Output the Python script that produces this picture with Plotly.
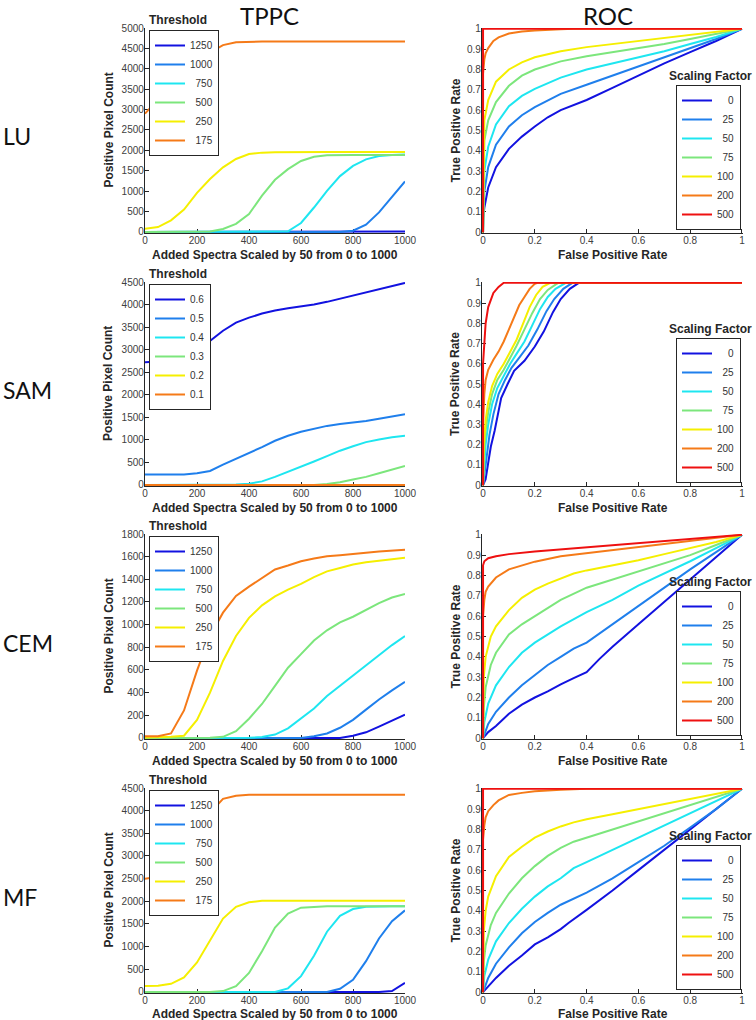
import plotly.graph_objects as go

W, H = 756, 1020
FONT = "Liberation Sans, Arial, sans-serif"
TITLE_FONT = "Lato, Open Sans, sans-serif"

# ---------------- data ----------------
ADDED_SPECTRA = [0, 50, 100, 150, 200, 250, 300, 350, 400, 450, 500,
                 550, 600, 650, 700, 750, 800, 850, 900, 950, 1000]

THRESH_LABELS = ["1250", "1000", "\u2007750", "\u2007500", "\u2007250", "\u2007175"]
SAM_THRESH_LABELS = ["0.6", "0.5", "0.4", "0.3", "0.2", "0.1"]
SCALING_LABELS = ["\u2007\u20070", "\u200725", "\u200750", "\u200775", "100", "200", "500"]
ROW_LABELS = ["LU", "SAM", "CEM", "MF"]

TPPC_COLORS = ["#1212e0", "#1f7fec", "#1ee6f0", "#7ce67c", "#f5ef00", "#f57a18"]
ROC_COLORS = ["#1212e0", "#1f7fec", "#1ee6f0", "#7ce67c", "#f5ef00", "#f57a18", "#ee1010"]

# TPPC: positive pixel counts, one list per threshold (order as THRESH_LABELS)
LU_TPPC = [
    [0, 0, 0, 0, 0, 0, 0, 0, 0, 0, 0, 0, 0, 0, 0, 0, 0, 0, 0, 5, 10],
    [0, 0, 0, 0, 0, 0, 0, 0, 0, 0, 0, 0, 0, 0, 0, 0, 30, 180, 480, 850, 1240],
    [0, 0, 0, 0, 0, 0, 0, 0, 0, 0, 0, 15, 220, 600, 1010, 1370, 1620, 1780, 1860, 1890, 1900],
    [0, 0, 0, 0, 0, 10, 75, 200, 440, 890, 1280, 1540, 1740, 1845, 1880, 1890, 1890, 1890, 1890, 1890, 1890],
    [80, 120, 285, 550, 960, 1300, 1585, 1790, 1910, 1945, 1955, 1960, 1960, 1960, 1960, 1960, 1960, 1960, 1960, 1960, 1960],
    [2900, 3250, 3650, 3980, 4220, 4400, 4580, 4650, 4668, 4670, 4670, 4670, 4670, 4670, 4670, 4670, 4670, 4670, 4670, 4670, 4670],
]
SAM_TPPC = [
    [2720, 2740, 2790, 2870, 2970, 3200, 3420, 3600, 3710, 3800, 3870, 3920, 3960, 4000, 4060, 4130, 4200, 4270, 4350, 4420, 4480],
    [230, 230, 230, 230, 260, 310, 450, 580, 700, 840, 980, 1090, 1180, 1250, 1310, 1350, 1380, 1420, 1470, 1520, 1570],
    [0, 0, 0, 0, 0, 2, 5, 10, 30, 80, 180, 290, 400, 520, 640, 760, 860, 950, 1010, 1060, 1090],
    [0, 0, 0, 0, 0, 0, 0, 0, 0, 0, 0, 0, 0, 0, 20, 60, 120, 180, 260, 340, 420],
    [0, 0, 0, 0, 0, 0, 0, 0, 0, 0, 0, 0, 0, 0, 0, 0, 0, 0, 0, 0, 0],
    [0, 0, 0, 0, 0, 0, 0, 0, 0, 0, 0, 0, 0, 0, 0, 0, 0, 0, 0, 0, 0],
]
CEM_TPPC = [
    [0, 0, 0, 0, 0, 0, 0, 0, 0, 0, 0, 0, 0, 0, 0, 0, 20, 50, 100, 150, 205],
    [0, 0, 0, 0, 0, 0, 0, 0, 0, 0, 0, 0, 0, 15, 40, 90, 160, 250, 340, 420, 495],
    [0, 0, 0, 0, 0, 0, 0, 0, 2, 8, 30, 85, 170, 260, 370, 460, 550, 640, 730, 820, 900],
    [0, 0, 0, 0, 2, 3, 10, 60, 170, 300, 460, 620, 740, 860, 950, 1020, 1070, 1130, 1190, 1240, 1270],
    [5, 5, 10, 20, 160, 400, 680, 900, 1060, 1170, 1250, 1310, 1360, 1420, 1470, 1500, 1530, 1550, 1565, 1578, 1590],
    [15, 15, 40, 243, 594, 900, 1106, 1253, 1335, 1414, 1487, 1522, 1560, 1583, 1604, 1613, 1627, 1635, 1645, 1652, 1660],
]
MF_TPPC = [
    [0, 0, 0, 0, 0, 0, 0, 0, 0, 0, 0, 0, 0, 0, 0, 0, 0, 0, 0, 20, 200],
    [0, 0, 0, 0, 0, 0, 0, 0, 0, 0, 0, 0, 0, 0, 0, 70, 270, 680, 1180, 1560, 1800],
    [0, 0, 0, 0, 0, 0, 0, 0, 0, 0, 0, 80, 350, 800, 1330, 1680, 1830, 1880, 1890, 1890, 1890],
    [0, 0, 0, 0, 0, 0, 20, 130, 420, 900, 1420, 1730, 1860, 1880, 1890, 1890, 1890, 1890, 1890, 1890, 1890],
    [130, 140, 180, 320, 650, 1150, 1620, 1880, 1980, 2010, 2010, 2010, 2010, 2010, 2010, 2010, 2010, 2010, 2010, 2010, 2010],
    [2500, 2540, 2700, 3100, 3550, 3950, 4260, 4330, 4350, 4350, 4350, 4350, 4350, 4350, 4350, 4350, 4350, 4350, 4350, 4350, 4350],
]
TPPC_YMAX = [5000, 4500, 1800, 4500]
TPPC_YDTICK = [500, 500, 200, 500]

# ROC: (false positive rate list, true positive rate list) per scaling factor
LU_ROC = [
    ([0, 0.005, 0.02, 0.05, 0.1, 0.15, 0.2, 0.25, 0.3, 0.4, 0.5, 0.6, 0.7, 0.8, 0.9, 1],
     [0.07, 0.12, 0.22, 0.32, 0.41, 0.47, 0.52, 0.565, 0.6, 0.65, 0.71, 0.77, 0.83, 0.885, 0.94, 1]),
    ([0, 0.005, 0.02, 0.05, 0.1, 0.15, 0.2, 0.3, 0.4, 0.5, 0.6, 0.7, 0.8, 0.9, 1],
     [0, 0.2, 0.32, 0.43, 0.52, 0.575, 0.615, 0.68, 0.725, 0.77, 0.815, 0.86, 0.905, 0.95, 1]),
    ([0, 0.005, 0.02, 0.05, 0.1, 0.15, 0.2, 0.3, 0.4, 0.5, 0.6, 0.7, 0.8, 0.9, 1],
     [0, 0.3, 0.42, 0.53, 0.62, 0.67, 0.705, 0.76, 0.8, 0.83, 0.86, 0.89, 0.925, 0.96, 1]),
    ([0, 0.005, 0.02, 0.05, 0.1, 0.15, 0.2, 0.3, 0.4, 0.5, 0.6, 0.7, 0.8, 0.9, 1],
     [0, 0.45, 0.55, 0.64, 0.72, 0.77, 0.80, 0.84, 0.865, 0.885, 0.905, 0.925, 0.95, 0.975, 1]),
    ([0, 0.005, 0.02, 0.05, 0.1, 0.15, 0.2, 0.3, 0.4, 0.5, 0.6, 0.7, 0.8, 0.9, 1],
     [0, 0.55, 0.65, 0.74, 0.80, 0.835, 0.86, 0.89, 0.91, 0.925, 0.94, 0.955, 0.97, 0.985, 1]),
    ([0, 0, 0.005, 0.01, 0.02, 0.04, 0.06, 0.1, 0.15, 0.2, 0.3, 0.35, 1],
     [0, 0.78, 0.85, 0.88, 0.905, 0.94, 0.958, 0.977, 0.987, 0.992, 0.998, 1, 1]),
    ([0, 0, 1], [0, 1, 1]),
]
SAM_ROC = [
    ([0, 0.01, 0.02, 0.03, 0.045, 0.07, 0.095, 0.12, 0.16, 0.2, 0.235, 0.27, 0.3, 0.335, 0.37, 1],
     [0, 0.03, 0.11, 0.19, 0.27, 0.43, 0.5, 0.565, 0.615, 0.685, 0.76, 0.855, 0.92, 0.97, 1, 1]),
    ([0, 0.005, 0.015, 0.025, 0.04, 0.06, 0.085, 0.11, 0.14, 0.175, 0.21, 0.245, 0.275, 0.31, 0.345, 1],
     [0, 0.05, 0.15, 0.25, 0.35, 0.45, 0.52, 0.58, 0.63, 0.69, 0.77, 0.86, 0.92, 0.97, 1, 1]),
    ([0, 0.005, 0.01, 0.02, 0.035, 0.055, 0.08, 0.105, 0.13, 0.16, 0.19, 0.22, 0.25, 0.28, 0.32, 1],
     [0, 0.1, 0.2, 0.3, 0.4, 0.48, 0.54, 0.6, 0.65, 0.71, 0.79, 0.87, 0.93, 0.97, 1, 1]),
    ([0, 0.003, 0.01, 0.02, 0.035, 0.055, 0.08, 0.105, 0.13, 0.16, 0.19, 0.22, 0.25, 0.29, 1],
     [0, 0.15, 0.27, 0.36, 0.45, 0.52, 0.57, 0.63, 0.69, 0.77, 0.85, 0.92, 0.965, 1, 1]),
    ([0, 0.003, 0.01, 0.02, 0.035, 0.055, 0.08, 0.105, 0.13, 0.155, 0.18, 0.205, 0.23, 0.26, 1],
     [0, 0.2, 0.32, 0.41, 0.49, 0.55, 0.6, 0.66, 0.72, 0.8, 0.88, 0.94, 0.98, 1, 1]),
    ([0, 0, 0.005, 0.01, 0.02, 0.04, 0.06, 0.08, 0.1, 0.12, 0.14, 0.16, 0.18, 0.2, 0.21, 1],
     [0, 0.3, 0.45, 0.52, 0.57, 0.62, 0.66, 0.71, 0.77, 0.83, 0.89, 0.93, 0.97, 0.995, 1, 1]),
    ([0, 0, 0.005, 0.01, 0.02, 0.03, 0.04, 0.06, 0.08, 1],
     [0, 0.6, 0.7, 0.8, 0.88, 0.92, 0.95, 0.98, 1, 1]),
]
CEM_ROC = [
    ([0, 0.02, 0.05, 0.1, 0.15, 0.2, 0.25, 0.3, 0.35, 0.4, 0.45, 0.5, 0.6, 0.7, 0.8, 0.9, 1],
     [0, 0.03, 0.06, 0.12, 0.165, 0.2, 0.23, 0.265, 0.295, 0.325, 0.39, 0.45, 0.56, 0.67, 0.78, 0.89, 1]),
    ([0, 0.02, 0.05, 0.1, 0.15, 0.2, 0.25, 0.3, 0.35, 0.4, 0.5, 0.6, 0.7, 0.8, 0.9, 1],
     [0, 0.07, 0.13, 0.2, 0.26, 0.31, 0.36, 0.4, 0.44, 0.47, 0.56, 0.65, 0.74, 0.83, 0.915, 1]),
    ([0, 0.005, 0.02, 0.05, 0.1, 0.15, 0.2, 0.3, 0.4, 0.5, 0.6, 0.7, 0.8, 0.9, 1],
     [0, 0.08, 0.17, 0.26, 0.35, 0.42, 0.47, 0.55, 0.62, 0.68, 0.75, 0.81, 0.87, 0.935, 1]),
    ([0, 0.003, 0.01, 0.03, 0.05, 0.1, 0.15, 0.2, 0.25, 0.3, 0.4, 0.5, 0.6, 0.7, 0.8, 0.9, 1],
     [0, 0.15, 0.25, 0.36, 0.42, 0.51, 0.56, 0.6, 0.64, 0.68, 0.74, 0.78, 0.82, 0.86, 0.9, 0.95, 1]),
    ([0, 0.003, 0.01, 0.03, 0.05, 0.1, 0.15, 0.2, 0.25, 0.3, 0.35, 0.4, 0.5, 0.6, 0.7, 0.8, 0.9, 1],
     [0, 0.3, 0.4, 0.5, 0.55, 0.63, 0.69, 0.73, 0.76, 0.785, 0.81, 0.825, 0.85, 0.875, 0.905, 0.935, 0.965, 1]),
    ([0, 0, 0.005, 0.01, 0.02, 0.05, 0.1, 0.15, 0.2, 0.3, 0.4, 0.5, 0.6, 0.7, 0.8, 0.9, 1],
     [0, 0.6, 0.68, 0.72, 0.745, 0.79, 0.83, 0.85, 0.868, 0.895, 0.91, 0.925, 0.94, 0.955, 0.97, 0.985, 1]),
    ([0, 0, 0.005, 0.02, 0.05, 0.1, 0.2, 0.3, 0.4, 0.5, 0.6, 0.7, 0.8, 0.9, 1],
     [0, 0.85, 0.87, 0.885, 0.895, 0.905, 0.918, 0.928, 0.938, 0.948, 0.958, 0.967, 0.977, 0.988, 1]),
]
MF_ROC = [
    ([0, 0.02, 0.05, 0.1, 0.15, 0.2, 0.25, 0.3, 0.33, 0.4, 0.5, 0.6, 0.7, 0.8, 0.9, 1],
     [0, 0.03, 0.07, 0.13, 0.18, 0.235, 0.27, 0.31, 0.34, 0.405, 0.5, 0.6, 0.7, 0.8, 0.9, 1]),
    ([0, 0.02, 0.05, 0.1, 0.15, 0.2, 0.25, 0.3, 0.4, 0.5, 0.6, 0.7, 0.8, 0.9, 1],
     [0, 0.07, 0.14, 0.22, 0.29, 0.345, 0.39, 0.43, 0.49, 0.56, 0.64, 0.72, 0.81, 0.9, 1]),
    ([0, 0.005, 0.02, 0.05, 0.1, 0.15, 0.2, 0.25, 0.3, 0.35, 0.4, 0.5, 0.6, 0.7, 0.8, 0.9, 1],
     [0, 0.08, 0.16, 0.25, 0.34, 0.41, 0.47, 0.52, 0.56, 0.61, 0.64, 0.7, 0.76, 0.82, 0.88, 0.94, 1]),
    ([0, 0.003, 0.01, 0.03, 0.05, 0.1, 0.15, 0.2, 0.25, 0.3, 0.35, 0.4, 0.5, 0.6, 0.7, 0.8, 0.9, 1],
     [0, 0.15, 0.23, 0.33, 0.39, 0.485, 0.56, 0.62, 0.67, 0.71, 0.74, 0.76, 0.8, 0.84, 0.88, 0.92, 0.96, 1]),
    ([0, 0.003, 0.01, 0.02, 0.05, 0.1, 0.15, 0.2, 0.25, 0.3, 0.35, 0.4, 0.5, 0.6, 0.7, 0.8, 0.9, 1],
     [0, 0.3, 0.4, 0.47, 0.57, 0.665, 0.715, 0.76, 0.79, 0.815, 0.835, 0.85, 0.875, 0.9, 0.925, 0.95, 0.975, 1]),
    ([0, 0, 0.005, 0.01, 0.02, 0.04, 0.06, 0.1, 0.15, 0.2, 0.25, 0.3, 0.4, 1],
     [0, 0.75, 0.82, 0.86, 0.89, 0.92, 0.943, 0.97, 0.98, 0.988, 0.992, 0.996, 1, 1]),
    ([0, 0, 1], [0, 1, 1]),
]

TPPC_DATA = [LU_TPPC, SAM_TPPC, CEM_TPPC, MF_TPPC]
ROC_DATA = [LU_ROC, SAM_ROC, CEM_ROC, MF_ROC]
TPPC_LEGEND_LABELS = [THRESH_LABELS, SAM_THRESH_LABELS, THRESH_LABELS, THRESH_LABELS]

# ---------------- layout geometry (pixels) ----------------
ROW_PX = [(28, 233), (282, 486), (534, 739), (788, 993)]
TPPC_XPX = (145, 405)
ROC_XPX = (482, 743)
ROC_LEGEND_H = 144  # approx rendered height of a 7-entry legend
XTITLE_OFF = [22, 22, 22, 21]


def xdom(px):
    return [px[0] / W, px[1] / W]


def ydom(px):
    return [1 - px[1] / H, 1 - px[0] / H]


AX_COLOR = "#262626"
TICK_FONT = dict(family=FONT, size=10, color="#404040")


def base_axis():
    return dict(showline=True, linecolor=AX_COLOR, linewidth=1.3, ticks="inside",
                ticklen=4, tickcolor=AX_COLOR, tickwidth=1, tickfont=TICK_FONT,
                showgrid=False, zeroline=False, mirror=False, layer="below traces",
                fixedrange=True, automargin=False, ticklabelstandoff=-2)


fig = go.Figure()
layout = dict(width=W, height=H, margin=dict(l=0, r=0, t=0, b=0, pad=0, autoexpand=False),
              paper_bgcolor="white", plot_bgcolor="white", showlegend=True)
annotations = []

for r in range(4):
    for c in range(2):
        idx = 2 * r + c + 1
        sfx = "" if idx == 1 else str(idx)
        xa = base_axis()
        ya = base_axis()
        xa["domain"] = xdom(TPPC_XPX if c == 0 else ROC_XPX)
        ya["domain"] = ydom(ROW_PX[r])
        xa["anchor"] = "y" + sfx
        ya["anchor"] = "x" + sfx
        leg_name = "legend" + sfx
        if c == 0:
            ymax = TPPC_YMAX[r]
            xa.update(range=[0, 1000], tickmode="linear", tick0=0, dtick=200)
            ya.update(range=[-ymax * 0.005, ymax], tickmode="linear", tick0=0, dtick=TPPC_YDTICK[r])
            for k, vals in enumerate(TPPC_DATA[r]):
                fig.add_trace(go.Scatter(
                    x=ADDED_SPECTRA, y=vals, mode="lines",
                    line=dict(color=TPPC_COLORS[k], width=2),
                    name=TPPC_LEGEND_LABELS[r][k], legend=leg_name,
                    xaxis="x" + sfx, yaxis="y" + sfx))
            top_px = ROW_PX[r][0] + 2
            layout[leg_name] = dict(
                x=149 / W, y=1 - top_px / H, xanchor="left", yanchor="top",
                bgcolor="white", bordercolor=AX_COLOR, borderwidth=1,
                font=dict(family=FONT, size=10, color="#333333"),
                itemwidth=30, tracegroupgap=0)
            annotations.append(dict(
                text="<b>Threshold</b>", x=178 / W, y=1 - (ROW_PX[r][0] - 8) / H,
                xref="paper", yref="paper", showarrow=False, xanchor="center", yanchor="middle",
                font=dict(family=FONT, size=12, color="#262626")))
            annotations.append(dict(
                text="<b>Positive Pixel Count</b>", x=108 / W,
                y=1 - (ROW_PX[r][0] + ROW_PX[r][1]) / 2 / H, textangle=-90,
                xref="paper", yref="paper", showarrow=False, xanchor="center", yanchor="middle",
                font=dict(family=FONT, size=12, color="#262626")))
            annotations.append(dict(
                text="<b>Added Spectra Scaled by 50 from 0 to 1000</b>",
                x=(TPPC_XPX[0] + TPPC_XPX[1]) / 2 / W, y=1 - (ROW_PX[r][1] + XTITLE_OFF[r]) / H,
                xref="paper", yref="paper", showarrow=False, xanchor="center", yanchor="middle",
                font=dict(family=FONT, size=12, color="#262626")))
        else:
            xa.update(range=[-0.004, 1.004], tickmode="linear", tick0=0, dtick=0.2)
            ya.update(range=[-0.004, 1.004], tickmode="linear", tick0=0, dtick=0.1)
            for k, (fpr, tpr) in enumerate(ROC_DATA[r]):
                fig.add_trace(go.Scatter(
                    x=fpr, y=tpr, mode="lines",
                    line=dict(color=ROC_COLORS[k], width=2),
                    name=SCALING_LABELS[k], legend=leg_name,
                    xaxis="x" + sfx, yaxis="y" + sfx))
            bot_px = ROW_PX[r][1] - 3
            layout[leg_name] = dict(
                x=741 / W, y=1 - bot_px / H, xanchor="right", yanchor="bottom",
                bgcolor="white", bordercolor=AX_COLOR, borderwidth=1,
                font=dict(family=FONT, size=10, color="#333333"),
                itemwidth=30, tracegroupgap=0)
            annotations.append(dict(
                text="<b>Scaling Factor</b>", x=754 / W, y=1 - (bot_px - ROC_LEGEND_H - 10) / H,
                xref="paper", yref="paper", showarrow=False, xanchor="right", yanchor="middle",
                font=dict(family=FONT, size=12, color="#262626")))
            annotations.append(dict(
                text="<b>True Positive Rate</b>", x=455 / W,
                y=1 - (ROW_PX[r][0] + ROW_PX[r][1]) / 2 / H, textangle=-90,
                xref="paper", yref="paper", showarrow=False, xanchor="center", yanchor="middle",
                font=dict(family=FONT, size=12, color="#262626")))
            annotations.append(dict(
                text="<b>False Positive Rate</b>",
                x=(ROC_XPX[0] + ROC_XPX[1]) / 2 / W, y=1 - (ROW_PX[r][1] + XTITLE_OFF[r]) / H,
                xref="paper", yref="paper", showarrow=False, xanchor="center", yanchor="middle",
                font=dict(family=FONT, size=12, color="#262626")))
        layout["xaxis" + sfx] = xa
        layout["yaxis" + sfx] = ya

# row labels
ROW_LABEL_Y = [136, 390, 643, 897]
for r in range(4):
    annotations.append(dict(
        text=ROW_LABELS[r], x=1 / W, y=1 - ROW_LABEL_Y[r] / H, xref="paper", yref="paper",
        showarrow=False, xanchor="left", yanchor="middle",
        font=dict(family=TITLE_FONT, size=23, color="#111111")))

# column titles
for txt, cx in (("TPPC", 269), ("ROC", 608)):
    annotations.append(dict(
        text=txt, x=cx / W, y=1, xref="paper", yref="paper", borderpad=0,
        showarrow=False, xanchor="center", yanchor="top",
        font=dict(family=TITLE_FONT, size=24, color="#111111")))

layout["annotations"] = annotations
fig.update_layout(**layout)
fig.write_html("out.html", config={"displayModeBar": False},
               post_script="document.body.style.margin='0px';document.body.style.padding='0px';")
